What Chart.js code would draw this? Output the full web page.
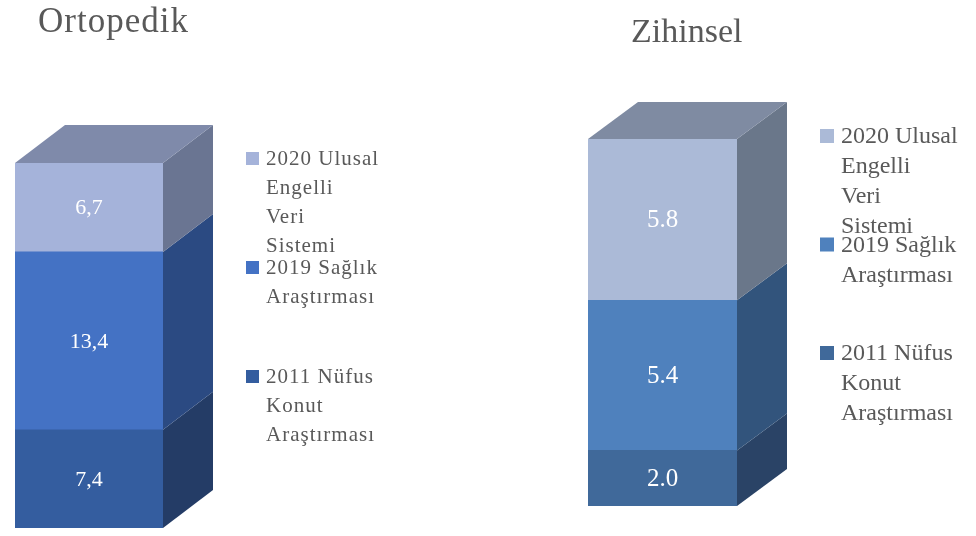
<!DOCTYPE html>
<html>
<head>
<meta charset="utf-8">
<script src="https://cdn.jsdelivr.net/npm/chart.js@4/dist/chart.umd.min.js"></script>
<style>
    body { margin: 0; background: #fff; }
    #wrap { position: relative; width: 976px; height: 536px; }
    canvas { position: absolute; top: 0; }
    #ortopedik { left: 0; }
    #zihinsel { left: 490px; }
</style>
</head>
<body>
<div id="wrap">
    <canvas id="ortopedik" width="490" height="536"></canvas>
    <canvas id="zihinsel" width="486" height="536"></canvas>
</div>
<script>
'use strict';

// series, bottom to top of the stack
const seriesNames = ['2011 Nüfus Konut Araştırması', '2019 Sağlık Araştırması', '2020 Ulusal Engelli Veri Sistemi'];
const legendLines = [
    ['2020 Ulusal', 'Engelli', 'Veri', 'Sistemi'],
    ['2019 Sağlık', 'Araştırması'],
    ['2011 Nüfus', 'Konut', 'Araştırması'],
];
const categories = ['Ortopedik', 'Zihinsel'];
const ortopedikValues = [7.4, 13.4, 6.7];
const zihinselValues = [2.0, 5.4, 5.8];

// draws the 3d sides, top, value labels, title and legend
const boxPlugin = {
    id: 'box3d',
    afterDatasetsDraw(chart, args, opts) {
        const ctx = chart.ctx;
        const n = chart.data.datasets.length;
        ctx.save();
        for (let i = 0; i < n; i++) {
            const bar = chart.getDatasetMeta(i).data[0];
            const x1 = bar.x - bar.width / 2, x2 = bar.x + bar.width / 2;
            const yt = Math.min(bar.y, bar.base), yb = Math.max(bar.y, bar.base);
            ctx.fillStyle = opts.side[i];
            ctx.beginPath();
            ctx.moveTo(x2, yb);
            ctx.lineTo(x2, yt);
            ctx.lineTo(x2 + opts.dx, yt - opts.dy);
            ctx.lineTo(x2 + opts.dx, yb - opts.dy);
            ctx.closePath();
            ctx.fill();
            if (i === n - 1) {
                ctx.fillStyle = opts.top;
                ctx.beginPath();
                ctx.moveTo(x1, yt);
                ctx.lineTo(x1 + opts.dx, yt - opts.dy);
                ctx.lineTo(x2 + opts.dx, yt - opts.dy);
                ctx.lineTo(x2, yt);
                ctx.closePath();
                ctx.fill();
            }
            // value label
            const v = chart.data.datasets[i].data[0];
            let txt = v.toFixed(1);
            if (opts.comma) txt = txt.replace('.', ',');
            ctx.fillStyle = '#ffffff';
            ctx.font = opts.valueFont;
            ctx.textAlign = 'center';
            ctx.textBaseline = 'middle';
            ctx.fillText(txt, bar.x, (yt + yb) / 2 + 1);
        }
        ctx.restore();
    },
    afterDraw(chart, args, opts) {
        const ctx = chart.ctx;
        ctx.save();
        ctx.fillStyle = '#595959';
        ctx.textAlign = 'left';
        ctx.textBaseline = 'alphabetic';
        ctx.font = opts.titleFont;
        ctx.letterSpacing = opts.titleSpacing;
        ctx.fillText(opts.title, opts.titleX, opts.titleY);

        ctx.font = opts.legendFont;
        ctx.letterSpacing = opts.legendSpacing;
        const n = chart.data.datasets.length;
        legendLines.forEach(function (lines, k) {
            const ds = chart.data.datasets[n - 1 - k];
            const base = opts.legendY + k * opts.itemGap;
            ctx.fillStyle = ds.backgroundColor;
            ctx.fillRect(opts.legendX, base - opts.box, opts.box, opts.box);
            ctx.fillStyle = '#595959';
            lines.forEach(function (line, j) {
                ctx.fillText(line, opts.legendX + opts.box + 7, base + j * opts.lineGap);
            });
        });
        ctx.restore();
    },
};

function makeChart(id, values, front, plugOpts, pad) {
    const total = values.reduce((a, b) => a + b, 0);
    return new Chart(document.getElementById(id), {
        type: 'bar',
        data: {
            labels: [plugOpts.title],
            datasets: values.map(function (v, i) {
                return {
                    label: seriesNames[i],
                    data: [v],
                    backgroundColor: front[i],
                    borderWidth: 0,
                    barPercentage: 1,
                    categoryPercentage: 1,
                };
            }),
        },
        options: {
            responsive: false,
            animation: false,
            layout: { padding: pad },
            scales: {
                x: { display: false, stacked: true },
                y: { display: false, stacked: true, min: 0, max: total },
            },
            plugins: {
                legend: { display: false },
                title: { display: false },
                tooltip: { enabled: false },
                box3d: plugOpts,
            },
        },
        plugins: [boxPlugin],
    });
}

makeChart('ortopedik', ortopedikValues,
    ['#345d9f', '#4472c4', '#a5b3da'],
    {
        title: categories[0], titleX: 38, titleY: 32,
        titleFont: '35px "Liberation Serif"', titleSpacing: '1px',
        side: ['#243c66', '#2b4a82', '#6a7592'], top: '#7f8aaa',
        dx: 50, dy: 38, comma: true,
        valueFont: '22px "Liberation Serif"',
        legendFont: '21px "Liberation Serif"', legendSpacing: '1px',
        legendX: 246, legendY: 165, itemGap: 109, lineGap: 29, box: 13,
    },
    { left: 15, right: 490 - 163, top: 163, bottom: 536 - 528 });

makeChart('zihinsel', zihinselValues,
    ['#40699a', '#4f81bd', '#abbad7'],
    {
        title: categories[1], titleX: 631 - 490, titleY: 42,
        titleFont: '34px "Liberation Serif"', titleSpacing: '0px',
        side: ['#2a4366', '#32547c', '#6a778a'], top: '#7f8ba2',
        dx: 50, dy: 37, comma: false,
        valueFont: '25px "Liberation Serif"',
        legendFont: '24px "Liberation Serif"', legendSpacing: '0px',
        legendX: 820 - 490, legendY: 143, itemGap: 108.5, lineGap: 30, box: 14,
    },
    { left: 588 - 490, right: 486 - (737 - 490), top: 139, bottom: 536 - 506 });
</script>
</body>
</html>
